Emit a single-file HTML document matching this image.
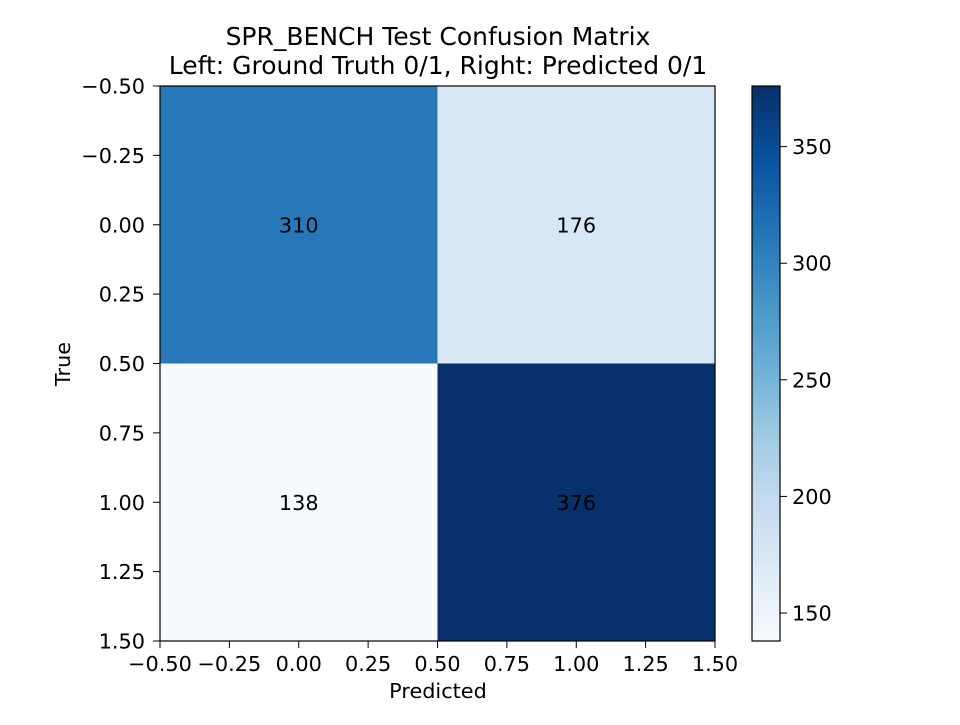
<!DOCTYPE html>
<html><head><meta charset="utf-8"><style>
body{margin:0;background:#fff;}
svg text{font-family:"DejaVu Sans","Liberation Sans",sans-serif;}
</style></head><body>
<svg id="c" width="960" height="720" xmlns="http://www.w3.org/2000/svg">
<text x="438" y="45" font-size="25" text-anchor="middle">SPR_BENCH Test Confusion Matrix</text>
<text x="438" y="74" font-size="25" text-anchor="middle">Left: Ground Truth 0/1, Right: Predicted 0/1</text>
<text x="438" y="698" font-size="20.8" text-anchor="middle">Predicted</text>
<text x="70" y="364" font-size="20.8" text-anchor="middle" transform="rotate(-90 70 364)">True</text>
<g id="cells"></g><g id="ticks"></g><g id="cbar"></g>
</svg>
<script>
const rowLabels=[0,1];
const colLabels=[0,1];
const matrixValues=[[310,176],[138,376]];
const axisTicks=[-0.5,-0.25,0,0.25,0.5,0.75,1,1.25,1.5];
const cbarTicks=[150,200,250,300,350];
const NS="http://www.w3.org/2000/svg";
const L=160,T=86,W=555,H=555;
const FS=20.8;
const flat=matrixValues.flat();
const vmin=Math.min(...flat),vmax=Math.max(...flat);
const stops=["#f7fbff","#deebf7","#c6dbef","#9ecae1","#6baed6","#4292c6","#2171b5","#08519c","#08306b"];
function hex(h){return [1,3,5].map(i=>parseInt(h.substr(i,2),16));}
function cmap(t){t=Math.max(0,Math.min(1,t));const p=t*8,i=Math.min(7,Math.floor(p)),f=p-i;const a=hex(stops[i]),b=hex(stops[i+1]);return `rgb(${a.map((v,k)=>Math.round(v+(b[k]-v)*f)).join(",")})`;}
const xs=v=>L+(v+0.5)/2*W, ys=v=>T+(v+0.5)/2*H;
function mk(tag,at,parent){const e=document.createElementNS(NS,tag);for(const k in at)e.setAttribute(k,at[k]);parent.appendChild(e);return e;}
const cells=document.getElementById('cells');
rowLabels.forEach((r,i)=>colLabels.forEach((c,j)=>{
 const v=matrixValues[i][j];
 const rc=mk('rect',{x:xs(c-0.5),y:ys(r-0.5),width:xs(c+0.5)-xs(c-0.5),height:ys(r+0.5)-ys(r-0.5),fill:cmap((v-vmin)/(vmax-vmin))},cells);
 
 
 const t=mk('text',{x:xs(c),y:ys(r)+7.5,'font-size':FS,'text-anchor':'middle'},cells);t.textContent=v;
 
 
}));
const fr=mk('rect',{x:L,y:T,width:W,height:H,fill:'none',stroke:'#000','stroke-width':1.2},cells);


const tk=document.getElementById('ticks');
axisTicks.forEach(v=>{
 const x=xs(v);mk('line',{x1:x,x2:x,y1:T+H,y2:T+H+7,stroke:'#000'},tk);
 const t=mk('text',{x:x,y:T+H+30,'font-size':FS,'text-anchor':'middle'},tk);t.textContent=v.toFixed(2).replace('-','\u2212');
 
 
 const y=ys(v);mk('line',{x1:L-7,x2:L,y1:y,y2:y,stroke:'#000'},tk);
 const u=mk('text',{x:L-15,y:y+7.5,'font-size':FS,'text-anchor':'end'},tk);u.textContent=v.toFixed(2).replace('-','\u2212');
 
 
});
const cb=document.getElementById('cbar');
const CX=752,CW=28;
for(let k=0;k<200;k++){const y0=T+H-(k+1)*H/200;mk('rect',{x:CX,y:y0,width:CW,height:H/200+0.6,fill:cmap((k+0.5)/200)},cb);}
const cf=mk('rect',{x:CX,y:T,width:CW,height:H,fill:'none',stroke:'#000','stroke-width':1.2},cb);


cbarTicks.forEach(v=>{
 const y=T+H-(v-vmin)/(vmax-vmin)*H;
 mk('line',{x1:CX+CW,x2:CX+CW+7,y1:y,y2:y,stroke:'#000'},cb);
 const t=mk('text',{x:CX+CW+12,y:y+7.5,'font-size':FS},cb);t.textContent=v;
 
 
});
</script>
</body></html>
